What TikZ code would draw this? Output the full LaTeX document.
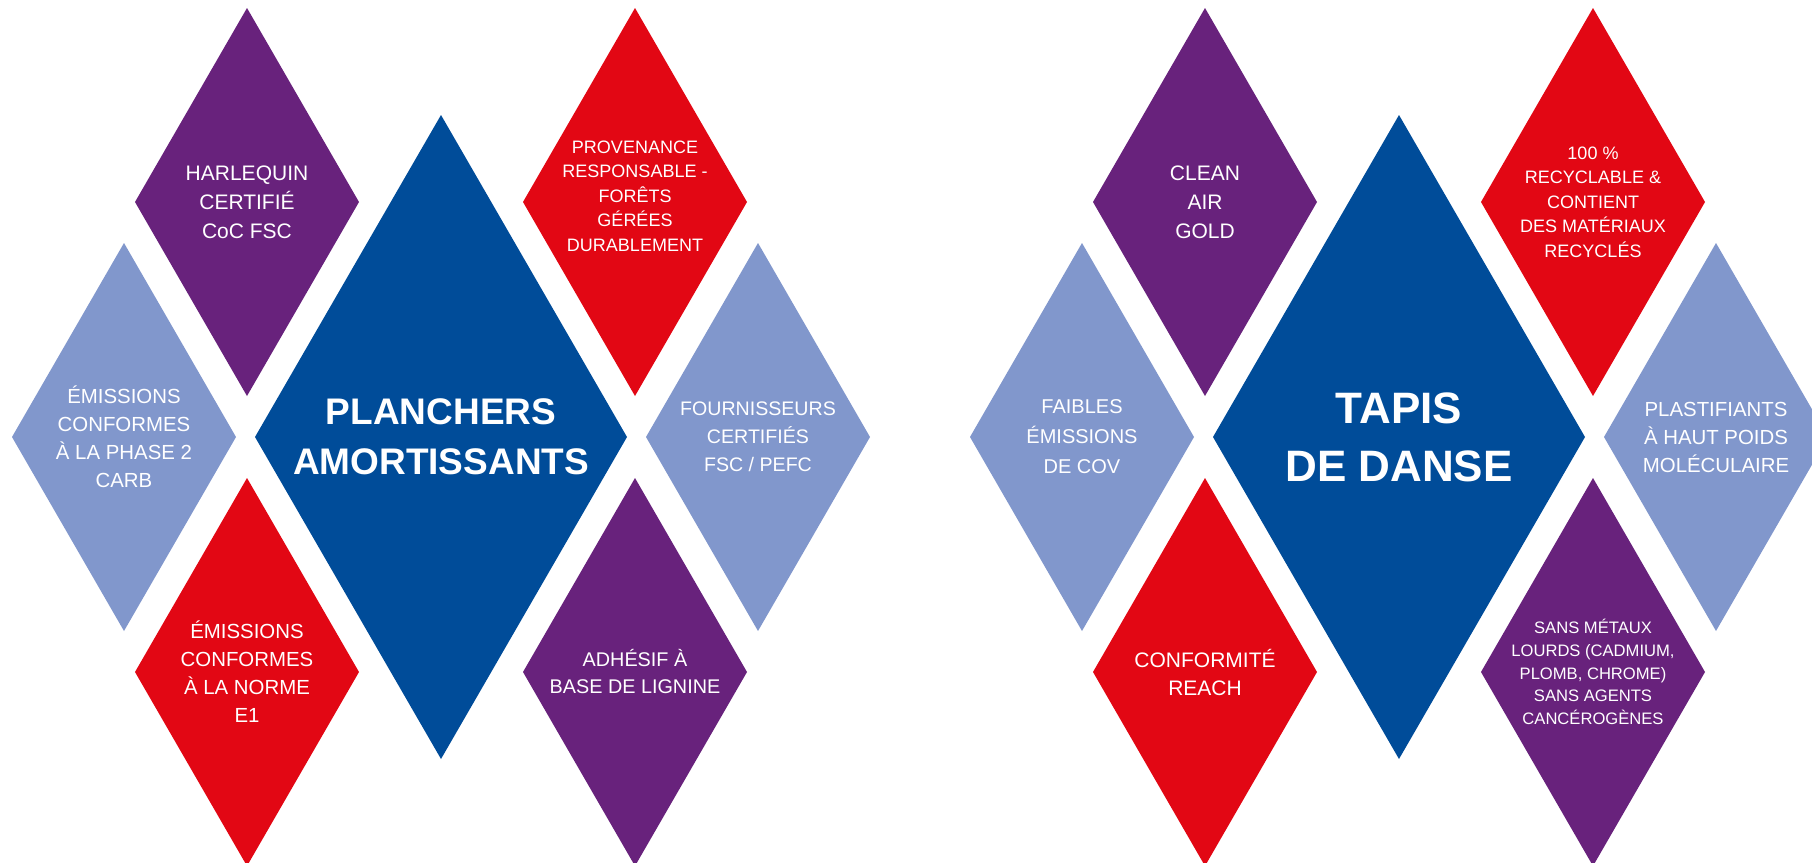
\documentclass[tikz,border=0pt]{standalone}
\usepackage{fontspec}
\setmainfont{Liberation Sans}
\usepackage{tikz}
\usetikzlibrary{shapes.geometric}
\definecolor{navy}{RGB}{0,76,153}
\definecolor{plum}{RGB}{104,34,124}
\definecolor{scarlet}{RGB}{226,7,20}
\definecolor{lightblue}{RGB}{129,151,204}

\begin{document}
\begin{tikzpicture}[x=0.5pt,y=-0.5pt,
    gem/.style={diamond, inner sep=0pt, outer sep=0pt, minimum width=112pt, minimum height=194pt},
    biggem/.style={diamond, inner sep=0pt, outer sep=0pt, minimum width=186pt, minimum height=322pt, fill=navy},
    txt/.style={text=white, align=center, inner sep=0pt, font=\fontsize{10.2}{14}\selectfont},
    dense/.style={txt, font=\fontsize{9}{12.2}\selectfont},
    tiny/.style={txt, font=\fontsize{8.3}{11.3}\selectfont},
    title/.style={text=white, align=center, inner sep=0pt, font=\bfseries\fontsize{18.5}{25}\selectfont}]
            \clip (0,0) rectangle (1812,863);
            \fill[white] (0,0) rectangle (1812,863);

            \node[biggem] (planchers) at (441,437) {};
            \node[gem, fill=plum] (harlequin) at (247,202) {};
            \node[gem, fill=scarlet] (provenance) at (635,202) {};
            \node[gem, fill=lightblue] (carb) at (124,437) {};
            \node[gem, fill=lightblue] (fournisseurs) at (758,437) {};
            \node[gem, fill=scarlet] (normeE) at (247,672) {};
            \node[gem, fill=plum] (adhesif) at (635,672) {};

            \node[title] (planchers-t) at (planchers) {PLANCHERS\\AMORTISSANTS};
            \node[txt, font=\fontsize{10.5}{14.5}\selectfont] (harlequin-t) at (harlequin) {HARLEQUIN\\CERTIFIÉ\\CoC FSC};
            \node[dense] (provenance-t) at ([yshift=3pt]provenance) {PROVENANCE\\RESPONSABLE -\\FORÊTS\\GÉRÉES\\DURABLEMENT};
            \node[txt] (carb-t) at (carb) {ÉMISSIONS\\CONFORMES\\À LA PHASE 2\\CARB};
            \node[txt, font=\fontsize{9.8}{14}\selectfont] (fournisseurs-t) at (fournisseurs) {FOURNISSEURS\\CERTIFIÉS\\FSC / PEFC};
            \node[txt] (normeE-t) at (normeE) {ÉMISSIONS\\CONFORMES\\À LA NORME\\E1};
            \node[txt, font=\fontsize{9.9}{13.5}\selectfont] (adhesif-t) at (adhesif) {ADHÉSIF À\\BASE DE LIGNINE};

            \node[biggem] (tapis) at (1399,437) {};
            \node[gem, fill=plum] (cleanair) at (1205,202) {};
            \node[gem, fill=scarlet] (recyclable) at (1593,202) {};
            \node[gem, fill=lightblue] (cov) at (1082,437) {};
            \node[gem, fill=lightblue] (plastifiants) at (1716,437) {};
            \node[gem, fill=scarlet] (reach) at (1205,672) {};
            \node[gem, fill=plum] (metaux) at (1593,672) {};

            \node[title, font=\bfseries\fontsize{22}{29}\selectfont] (tapis-t) at (tapis) {TAPIS\\DE DANSE};
            \node[txt, font=\fontsize{10.5}{14.5}\selectfont] (cleanair-t) at (cleanair) {CLEAN\\AIR\\GOLD};
            \node[dense] (recyclable-t) at (recyclable) {100 \%\\RECYCLABLE \&\\CONTIENT\\DES MATÉRIAUX\\RECYCLÉS};
            \node[txt, font=\fontsize{10}{15}\selectfont] (cov-t) at (cov) {FAIBLES\\ÉMISSIONS\\DE COV};
            \node[txt] (plastifiants-t) at (plastifiants) {PLASTIFIANTS\\À HAUT POIDS\\MOLÉCULAIRE};
            \node[txt, font=\fontsize{10.5}{14}\selectfont] (reach-t) at (reach) {CONFORMITÉ\\REACH};
            \node[tiny] (metaux-t) at (metaux) {SANS MÉTAUX\\LOURDS (CADMIUM,\\PLOMB, CHROME)\\SANS AGENTS\\CANCÉROGÈNES};
        \end{tikzpicture}
\end{document}
